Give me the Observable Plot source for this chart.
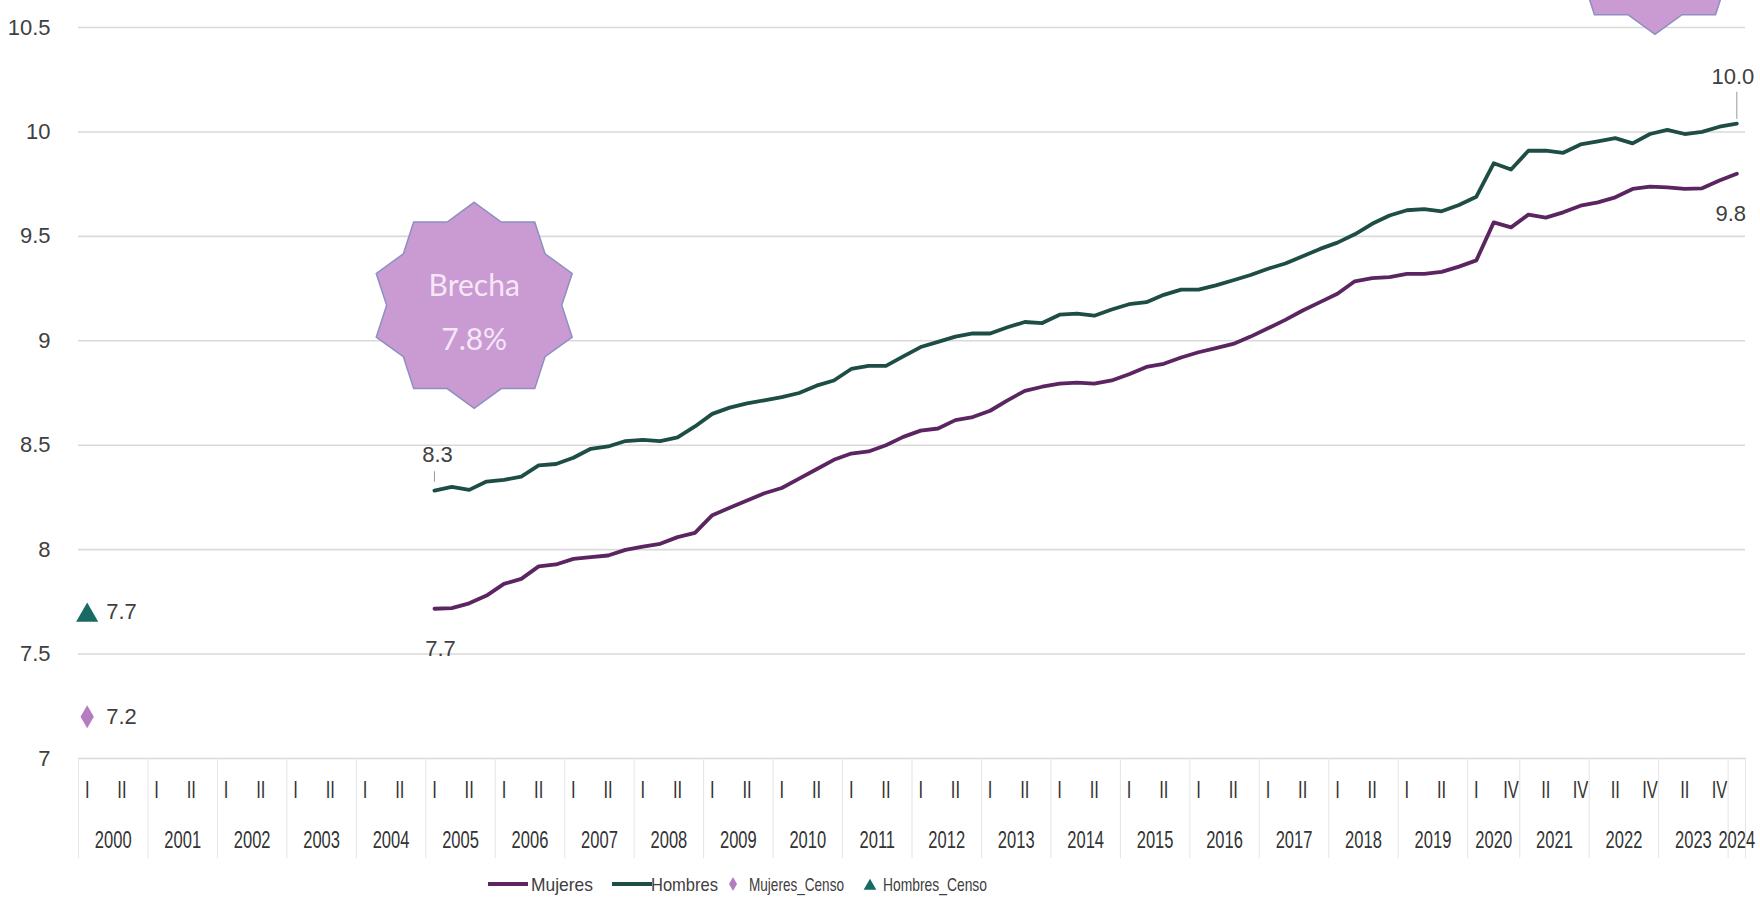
<!DOCTYPE html>
<html>
<head>
<meta charset="utf-8">
<script src="https://cdn.jsdelivr.net/npm/d3@7"></script>
<script src="https://cdn.jsdelivr.net/npm/@observablehq/plot@0.6"></script>
<style>
  html, body { margin: 0; padding: 0; background: #ffffff; }
  body { width: 1760px; height: 910px; overflow: hidden; font-family: "Liberation Sans", Arial, sans-serif; }
  #legend svg { display: block; }
</style>
</head>
<body>
<div id="chart"></div>
<div id="legend"></div>
<script>
// ---------- Categorías del eje ----------
const anios = ["2000","2001","2002","2003","2004","2005","2006","2007","2008","2009",
               "2010","2011","2012","2013","2014","2015","2016","2017","2018","2019",
               "2020","2021","2022","2023","2024"];
const trimestresEstandar = ["I","II","III","IV"];
const trimestres2020 = ["I","III","IV"];
const trimestres2024 = ["I"];
const etiquetasHasta2019 = ["I","","II",""];
const etiquetas2020 = ["I","","IV"];
const etiquetasDesde2021 = ["","II","","IV"];
const etiquetas2024 = [""];

// ---------- Series (años promedio de escolaridad), 2005-I a 2024-I ----------
const inicioSerie = "2005-I";
const mujeres = [
  7.717, 7.720, 7.743, 7.780,
  7.836, 7.860, 7.920, 7.929,
  7.956, 7.964, 7.972, 7.999,
  8.015, 8.028, 8.060, 8.080,
  8.165, 8.200, 8.235, 8.270,
  8.295, 8.340, 8.385, 8.430,
  8.460, 8.470, 8.500, 8.540,
  8.570, 8.580, 8.620, 8.635,
  8.665, 8.715, 8.760, 8.780,
  8.795, 8.800, 8.795, 8.810,
  8.840, 8.875, 8.890, 8.920,
  8.945, 8.965, 8.985, 9.020,
  9.060, 9.100, 9.145, 9.185,
  9.225, 9.285, 9.300, 9.305,
  9.320, 9.320, 9.330, 9.355,
  9.385, 9.567, 9.543,
  9.604, 9.590, 9.615, 9.647,
  9.663, 9.687, 9.727, 9.738,
  9.735, 9.727, 9.730, 9.767,
  9.800
];
const hombres = [
  8.283, 8.300, 8.286, 8.326,
  8.334, 8.350, 8.403, 8.410,
  8.440, 8.483, 8.494, 8.520,
  8.526, 8.520, 8.538, 8.590,
  8.650, 8.680, 8.700, 8.715,
  8.730, 8.750, 8.785, 8.810,
  8.865, 8.880, 8.880, 8.925,
  8.970, 8.995, 9.020, 9.035,
  9.035, 9.065, 9.090, 9.085,
  9.125, 9.130, 9.120, 9.150,
  9.175, 9.185, 9.220, 9.245,
  9.245, 9.265, 9.290, 9.315,
  9.345, 9.370, 9.405, 9.440,
  9.470, 9.510, 9.560, 9.600,
  9.625, 9.630, 9.620, 9.650,
  9.690, 9.850, 9.820,
  9.910, 9.910, 9.900, 9.940,
  9.955, 9.970, 9.945, 9.990,
  10.010, 9.990, 10.000, 10.025,
  10.040
];
const censoPeriodo = "2000-I";
const mujeresCenso = [7.2];
const hombresCenso = [7.7];

// Ticks del eje Y
const yTicks = [7, 7.5, 8, 8.5, 9, 9.5, 10, 10.5];

// Anotaciones (estrellas "Brecha")
const brechaPeriodos = ["2005-III", "2022-IV"];
const brechaValores = [9.17, 10.96];
const brechaTextos = ["Brecha\n7.8%", ""];

// Leyenda
const leyendaNombres = ["Mujeres", "Hombres", "Mujeres_Censo", "Hombres_Censo"];

// ---------- Construcción ----------
const cats = [];
anios.forEach(a => {
  const qs = a === "2020" ? trimestres2020 : a === "2024" ? trimestres2024 : trimestresEstandar;
  const labs = +a <= 2019 ? etiquetasHasta2019 : a === "2020" ? etiquetas2020 : a === "2024" ? etiquetas2024 : etiquetasDesde2021;
  qs.forEach((q, k) => cats.push({anio: a, q, key: a + "-" + q, label: labs[k], i: cats.length}));
});
const idx = new Map(cats.map(c => [c.key, c.i]));
const s0 = idx.get(inicioSerie);
const serieM = mujeres.map((v, j) => ({i: s0 + j, v}));
const serieH = hombres.map((v, j) => ({i: s0 + j, v}));
const subTicks = cats.filter(c => c.label).map(c => c.i);
const subLabel = new Map(cats.map(c => [c.i, c.label]));
const yearCenters = anios.map(a => { const cs = cats.filter(c => c.anio === a); return (cs[0].i + cs[cs.length - 1].i) / 2; });
const yearLabel = new Map(yearCenters.map((c, k) => [c, anios[k]]));
const boundaries = anios.map(a => cats.find(c => c.anio === a).i - 0.5).concat([cats.length - 0.5]);
const censoM = mujeresCenso.map(v => ({i: idx.get(censoPeriodo), v}));
const censoH = hombresCenso.map(v => ({i: idx.get(censoPeriodo), v}));
const brechas = brechaPeriodos.map((p, k) => ({i: idx.get(p), v: brechaValores[k], t: brechaTextos[k]}));

const fmt = d3.format(".1f");
const firstM = serieM[0], lastM = serieM[serieM.length - 1];
const firstH = serieH[0], lastH = serieH[serieH.length - 1];

const estrella = {
  draw(context, size) {
    const R = Math.sqrt(size / Math.PI), r = R * 0.85;
    for (let k = 0; k < 20; k++) {
      const a = -Math.PI / 2 + k * Math.PI / 10;
      const rr = k % 2 ? r : R;
      const px = rr * Math.cos(a), py = rr * Math.sin(a);
      if (k) context.lineTo(px, py); else context.moveTo(px, py);
    }
    context.closePath();
  }
};

const FONT = '"Liberation Sans", Arial, sans-serif';
const colM = "#5a2560", colH = "#1d4d44", colTri = "#1a6a64", colDia = "#b57cc0", txt = "#404040";

const chart = Plot.plot({
  width: 1760,
  height: 862,
  marginLeft: 78,
  marginRight: 15,
  marginTop: 27,
  marginBottom: 104,
  style: {fontFamily: FONT, fontSize: "22px", color: txt, background: "#ffffff", overflow: "visible"},
  x: {type: "linear", domain: [-0.5, cats.length - 0.5]},
  y: {domain: [7, 10.5]},
  marks: [
    Plot.gridY(yTicks, {stroke: "#d9d9d9", strokeOpacity: 1, strokeWidth: 1.6}),
    Plot.axisY(yTicks, {tickSize: 0, tickPadding: 28, label: null, fontSize: 22, fill: txt, tickFormat: d => String(d)}),
    Plot.axisX({ticks: boundaries, tickSize: 100, tickFormat: () => "", stroke: "#e4e4e4", label: null}),
    Plot.axisX({ticks: subTicks, tickSize: 0, tickPadding: 23, tickFormat: d => subLabel.get(d), label: null, fontSize: 23, fill: "#333"}),
    Plot.axisX({ticks: yearCenters, tickSize: 0, tickPadding: 73, tickFormat: d => yearLabel.get(d), label: null, fontSize: 23, fill: "#333"}),
    // Estrellas de brecha
    Plot.dot(brechas, {x: "i", y: "v", dx: 5, symbol: estrella, r: 103, fill: "#c99bd2", stroke: "#8d8fc0", strokeWidth: 1.5}),
    Plot.text(brechas, {x: "i", y: "v", dx: 5, text: "t", lineHeight: 1.8, fontSize: 30, fill: "#f6e6f7", fontFamily: "Lato, 'Open Sans', sans-serif"}),
    // Series
    Plot.line(serieH, {x: "i", y: "v", stroke: colH, strokeWidth: 3.8, curve: "linear"}),
    Plot.line(serieM, {x: "i", y: "v", stroke: colM, strokeWidth: 3.8, curve: "linear"}),
    // Censo
    Plot.dot(censoH, {x: "i", y: "v", symbol: "triangle", r: 8.2, fill: colTri, stroke: null, dy: 3}),
    Plot.dot(censoM, {x: "i", y: "v", symbol: "diamond", r: 7, fill: colDia, stroke: null}),
    Plot.text(censoH, {x: "i", y: "v", text: d => fmt(d.v), dx: 19, textAnchor: "start", fontSize: 22, fill: txt}),
    Plot.text(censoM, {x: "i", y: "v", text: d => fmt(d.v), dx: 19, textAnchor: "start", fontSize: 22, fill: txt}),
    // Etiquetas de inicio / fin
    Plot.ruleX([firstH], {x: "i", y1: d => d.v + 0.04, y2: d => d.v + 0.09, stroke: "#999", strokeWidth: 1}),
    Plot.text([firstH], {x: "i", y: "v", text: d => fmt(d.v), dy: -36, dx: 3, fontSize: 22, fill: txt}),
    Plot.text([firstM], {x: "i", y: "v", text: d => fmt(d.v), dy: 40, dx: 6, fontSize: 22, fill: txt}),
    Plot.ruleX([lastH], {x: "i", y1: d => d.v + 0.02, y2: d => d.v + 0.15, stroke: "#999", strokeWidth: 1}),
    Plot.text([lastH], {x: "i", y: "v", text: d => fmt(d.v), dy: -47, dx: -4, fontSize: 22, fill: txt}),
    Plot.text([lastM], {x: "i", y: "v", text: d => fmt(d.v), dy: 40, dx: -6, fontSize: 22, fill: txt})
  ]
});
document.getElementById("chart").appendChild(chart);

// Condensar las etiquetas del eje X (tipografía estrecha del original)
d3.select(chart).selectAll('g[aria-label="x-axis tick label"] text').each(function() {
  const len = this.getComputedTextLength();
  if (len > 0) {
    this.setAttribute("textLength", (len * 0.72).toFixed(1));
    this.setAttribute("lengthAdjust", "spacingAndGlyphs");
  }
});

// ---------- Leyenda ----------
const legPos = [
  {sym: 488, text: 531, w: 62},
  {sym: 612, text: 651, w: 67},
  {sym: 733, text: 749, w: 95},
  {sym: 870, text: 883, w: 104}
];
const legTipos = ["line", "line", "diamond", "triangle"];
const legColores = [colM, colH, colDia, colTri];
const lsvg = d3.select("#legend").append("svg").attr("width", 1760).attr("height", 48)
  .style("font-family", FONT).style("font-size", "19px");
leyendaNombres.forEach((name, k) => {
  const p = legPos[k], t = legTipos[k], c = legColores[k], cy = 22;
  if (t === "line") {
    lsvg.append("rect").attr("x", p.sym).attr("y", cy - 2).attr("width", 40).attr("height", 4).attr("fill", c);
  } else {
    const sym = t === "diamond" ? d3.symbolDiamond : d3.symbolTriangle;
    lsvg.append("path").attr("transform", `translate(${p.sym},${t === "diamond" ? cy : cy + 2})`)
      .attr("d", d3.symbol(sym, t === "diamond" ? 55 : 70)()).attr("fill", c);
  }
  lsvg.append("text").attr("x", p.text).attr("y", cy).attr("dy", "0.35em").attr("fill", "#404040")
    .attr("textLength", p.w).attr("lengthAdjust", "spacingAndGlyphs").text(name);
});
</script>
</body>
</html>
